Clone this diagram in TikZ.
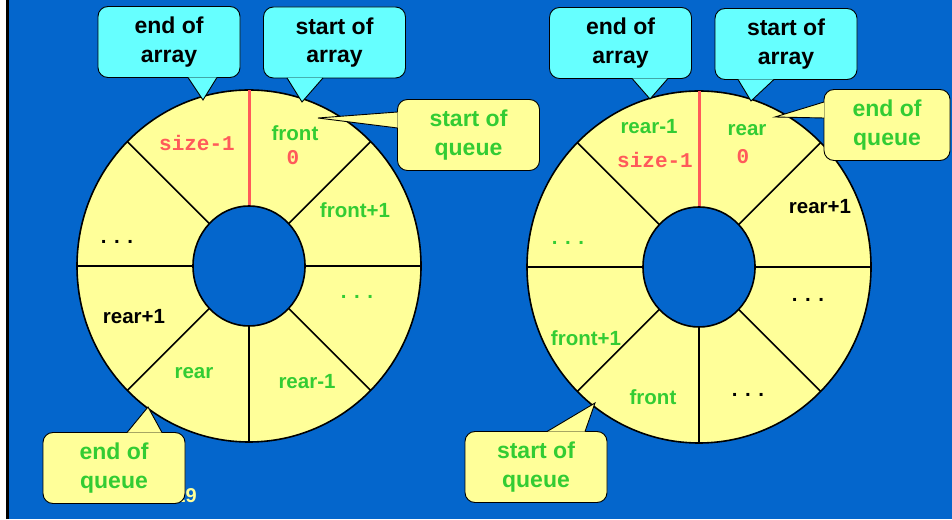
\documentclass[tikz,border=0pt]{standalone}
\usepackage{fontspec}
\setmainfont{Liberation Sans}
\setmonofont{Liberation Mono}
\usepackage{tikz}
\usetikzlibrary{calc}
\definecolor{slideblue}{RGB}{4,102,204}
\definecolor{ringyellow}{RGB}{255,255,153}
\definecolor{tipcyan}{RGB}{102,255,255}
\definecolor{qgreen}{RGB}{51,204,51}
\definecolor{idxred}{RGB}{255,90,90}
\tikzset{
  arraytip/.style={rectangle, draw=black, fill=tipcyan, rounded corners=10pt,
    minimum width=142pt, minimum height=71pt, inner sep=0pt, align=center,
    font=\fontsize{23}{28.5}\selectfont\bfseries, line width=0.9pt,
    execute at begin node={\rule{0pt}{22pt}}},
  queuetip/.style={arraytip, fill=ringyellow, text=qgreen},
  slot/.style={font=\fontsize{20.5}{24}\selectfont\bfseries, text=qgreen},
  dots/.style={slot, anchor=base},
  index/.style={font=\fontsize{21}{24}\selectfont\ttfamily\bfseries, text=idxred},
  ring/.style={line width=1.6pt, draw=black}
}
% tail of a callout: fill colour, base point, tip, base point
\newcommand{\tailof}[4]{%
  \fill[#1] #2 -- #3 -- #4 -- cycle;
  \draw[line width=0.9pt] #2 -- #3 -- #4;
}
% ring of eight slots round centre #1
\newcommand{\slotring}[1]{%
  \filldraw[ring, fill=ringyellow] (#1) ellipse (172 and 176);
  \foreach \a in {0,45,...,315}
    \draw[ring] ($(#1)+(\a:56 and 60)$) -- ($(#1)+(\a:172 and 176)$);
  \draw[idxred, line width=3pt] ($(#1)+(0,60)$) -- ($(#1)+(0,176)$);
  \filldraw[ring, fill=slideblue] (#1) ellipse (56 and 60);
}

\begin{document}
\begin{tikzpicture}[x=1pt, y=1pt]
  \useasboundingbox (0,0) rectangle (952,519);
  \fill[white] (0,0) rectangle (952,519);
  \fill[slideblue] (9,0) rectangle (952,519);
  \draw[line width=3pt] (7.5,0) -- (7.5,519);

  \coordinate (lc) at (249,253);
  \coordinate (rc) at (699,252);

  % Front at index 0
  \slotring{lc}
  \node[index] (lsize) at (197,376) {size-1};
  \node[slot] (lfront) at (295,386) {front};
  \node[index] (lzero) at (293,361) {0};
  \node[slot] (lnext) at (355,309) {front+1};
  \node[dots] (ldots1) at (357,220) {. . .};
  \node[slot] (lrearm) at (307,137) {rear-1};
  \node[slot] (lrear) at (194,146) {rear};
  \node[slot, text=black] (lrearp) at (134,202) {rear+1};
  \node[dots, text=black] (ldots2) at (117,275) {. . .};

  % Rear at index 0
  \slotring{rc}
  \node[slot] (rrearm) at (649,392) {rear-1};
  \node[index] (rsize) at (655,359) {size-1};
  \node[slot] (rrear) at (747,389) {rear};
  \node[index] (rzero) at (743,362) {0};
  \node[slot, text=black] (rrearp) at (820,312) {rear+1};
  \node[dots, text=black] (rdots1) at (808,217) {. . .};
  \node[dots, text=black] (rdots2) at (748,122) {. . .};
  \node[slot] (rfront) at (653,122) {front};
  \node[slot] (rnext) at (586,181) {front+1};
  \node[dots] (rdots3) at (568,274) {. . .};

  \node[font=\fontsize{20}{24}\selectfont\bfseries, text=ringyellow,
    anchor=base east, inner sep=0pt] (pageno) at (197,17) {29};

  % Callouts, left ring
  \coordinate (leatip) at (203,419);
  \coordinate (lsatip) at (302,417);
  \coordinate (lsqtip) at (318,401);
  \coordinate (leqtip) at (148,112);
  \node[arraytip] (lea) at (169,477) {end of\\array};
  \tailof{tipcyan}{($(lea.south)+(19,0.5)$)}{(leatip)}{($(lea.south)+(48,0.5)$)}
  \node[arraytip] (lsa) at (334.5,476.5) {start of\\array};
  \tailof{tipcyan}{($(lsa.south)+(-47.5,0.5)$)}{(lsatip)}{($(lsa.south)+(-11.5,0.5)$)}
  \node[queuetip] (lsq) at (468.5,384) {start of\\queue};
  \tailof{ringyellow}{($(lsq.west)+(0.5,23)$)}{(lsqtip)}{($(lsq.west)+(0.5,7)$)}
  \node[queuetip] (leq) at (114,51) {end of\\queue};
  \tailof{ringyellow}{($(leq.north)+(13,-0.5)$)}{(leqtip)}{($(leq.north)+(48,-0.5)$)}

  % Callouts, right ring
  \coordinate (reatip) at (650,420);
  \coordinate (rsatip) at (751,418);
  \coordinate (reqtip) at (775,402);
  \coordinate (rsqtip) at (595,116);
  \node[arraytip] (rea) at (620.5,476) {end of\\array};
  \tailof{tipcyan}{($(rea.south)+(11.5,0.5)$)}{(reatip)}{($(rea.south)+(47.5,0.5)$)}
  \node[arraytip] (rsa) at (786,475) {start of\\array};
  \tailof{tipcyan}{($(rsa.south)+(-48,0.5)$)}{(rsatip)}{($(rsa.south)+(-12,0.5)$)}
  \node[queuetip, minimum width=126pt] (req) at (887,394) {end of\\queue};
  \tailof{ringyellow}{($(req.west)+(0.5,23)$)}{(reqtip)}{($(req.west)+(0.5,7)$)}
  \node[queuetip] (rsq) at (536,52) {start of\\queue};
  \tailof{ringyellow}{($(rsq.north)+(11,-0.5)$)}{(rsqtip)}{($(rsq.north)+(49,-0.5)$)}
\end{tikzpicture}
\end{document}
